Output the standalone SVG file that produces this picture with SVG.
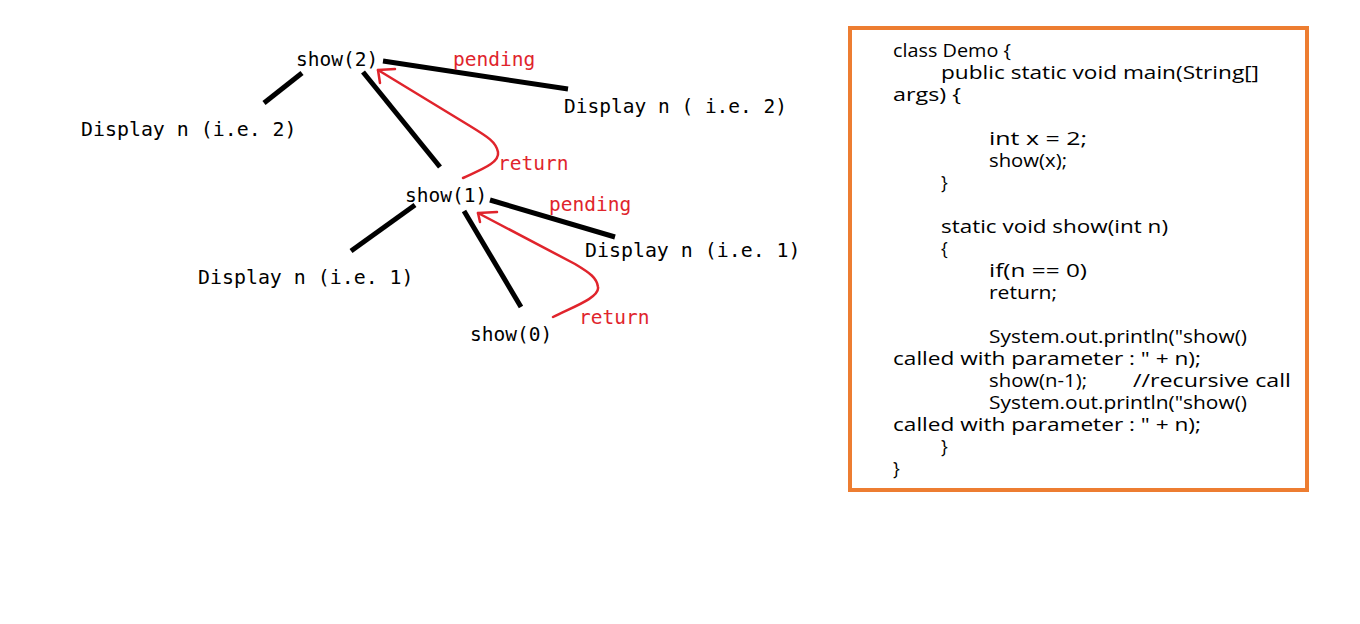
<svg xmlns="http://www.w3.org/2000/svg" width="1360" height="624" viewBox="0 0 1360 624">
<style>
.m{font-family:"DejaVu Sans Mono","Liberation Mono",monospace;font-size:19.5px;fill:#000}
.d{font-size:19.9px}
.r{fill:#E0242C}
.e{stroke:#000;stroke-width:5;stroke-linecap:butt;fill:none}
.a{stroke:#E0242C;stroke-width:2.5;fill:none;stroke-linecap:round;stroke-linejoin:round}
.c{font-family:"Open Sans","Liberation Sans",sans-serif;font-size:18px;fill:#000}
</style>
<rect width="1360" height="624" fill="#fff"/>
<g id="connectors">
<line class="e" x1="302" y1="73" x2="264" y2="103"/>
<line class="e" x1="363" y1="72" x2="440" y2="167"/>
<line class="e" x1="383" y1="61" x2="568" y2="89"/>
<line class="e" x1="415" y1="205" x2="351" y2="251"/>
<line class="e" x1="464" y1="211" x2="521" y2="307"/>
<line class="e" x1="490" y1="200" x2="615" y2="237"/>
<path class="a" d="M463,178 C480,170 500,163 498,152 C496,142 488,137 470,126 L378,70"/>
<path class="a" d="M395,69 L378,70 L380,83"/>
<path class="a" d="M553,317 C570,308 600,298 598,287 C597,278 590,273 575,264 L478,213"/>
<path class="a" d="M497,212 L478,213 L480,222"/>
</g>
<g id="show2"><text class="m" x="296" y="66">show(2)</text></g>
<g id="display2left"><text class="m d" x="81" y="136">Display n (i.e. 2)</text></g>
<g id="display2right"><text class="m" x="564" y="113">Display n ( i.e. 2)</text></g>
<g id="pending1"><text class="m r" x="453" y="66">pending</text></g>
<g id="return1"><text class="m r" x="498" y="170">return</text></g>
<g id="show1"><text class="m" x="405" y="202">show(1)</text></g>
<g id="display1left"><text class="m d" x="198" y="284">Display n (i.e. 1)</text></g>
<g id="display1right"><text class="m d" x="585" y="257">Display n (i.e. 1)</text></g>
<g id="pending2"><text class="m r" x="549" y="211">pending</text></g>
<g id="return2"><text class="m r" x="579" y="324">return</text></g>
<g id="show0"><text class="m" x="470" y="341">show(0)</text></g>
<g id="code">
<rect x="850" y="28" width="457" height="462" fill="#fff" stroke="#ED7D31" stroke-width="4"/>
<text class="c" x="893" y="57" textLength="118" lengthAdjust="spacingAndGlyphs">class Demo {</text>
<text class="c" x="941" y="79" textLength="318" lengthAdjust="spacingAndGlyphs">public static void main(String[]</text>
<text class="c" x="893" y="101" textLength="68" lengthAdjust="spacingAndGlyphs">args) {</text>
<text class="c" x="989" y="145" textLength="98" lengthAdjust="spacingAndGlyphs">int x = 2;</text>
<text class="c" x="989" y="167" textLength="78" lengthAdjust="spacingAndGlyphs">show(x);</text>
<text class="c" x="941" y="189">}</text>
<text class="c" x="941" y="233" textLength="227" lengthAdjust="spacingAndGlyphs">static void show(int n)</text>
<text class="c" x="941" y="255">{</text>
<text class="c" x="989" y="277" textLength="98" lengthAdjust="spacingAndGlyphs">if(n == 0)</text>
<text class="c" x="989" y="299" textLength="68" lengthAdjust="spacingAndGlyphs">return;</text>
<text class="c" x="989" y="343" textLength="258" lengthAdjust="spacingAndGlyphs">System.out.println("show()</text>
<text class="c" x="893" y="365" textLength="308" lengthAdjust="spacingAndGlyphs">called with parameter : " + n);</text>
<text class="c" x="989" y="387" textLength="98" lengthAdjust="spacingAndGlyphs">show(n-1);</text>
<text class="c" x="1133" y="387" textLength="158" lengthAdjust="spacingAndGlyphs">//recursive call</text>
<text class="c" x="989" y="409" textLength="258" lengthAdjust="spacingAndGlyphs">System.out.println("show()</text>
<text class="c" x="893" y="431" textLength="308" lengthAdjust="spacingAndGlyphs">called with parameter : " + n);</text>
<text class="c" x="941" y="453">}</text>
<text class="c" x="893" y="475">}</text>
</g>
</svg>
